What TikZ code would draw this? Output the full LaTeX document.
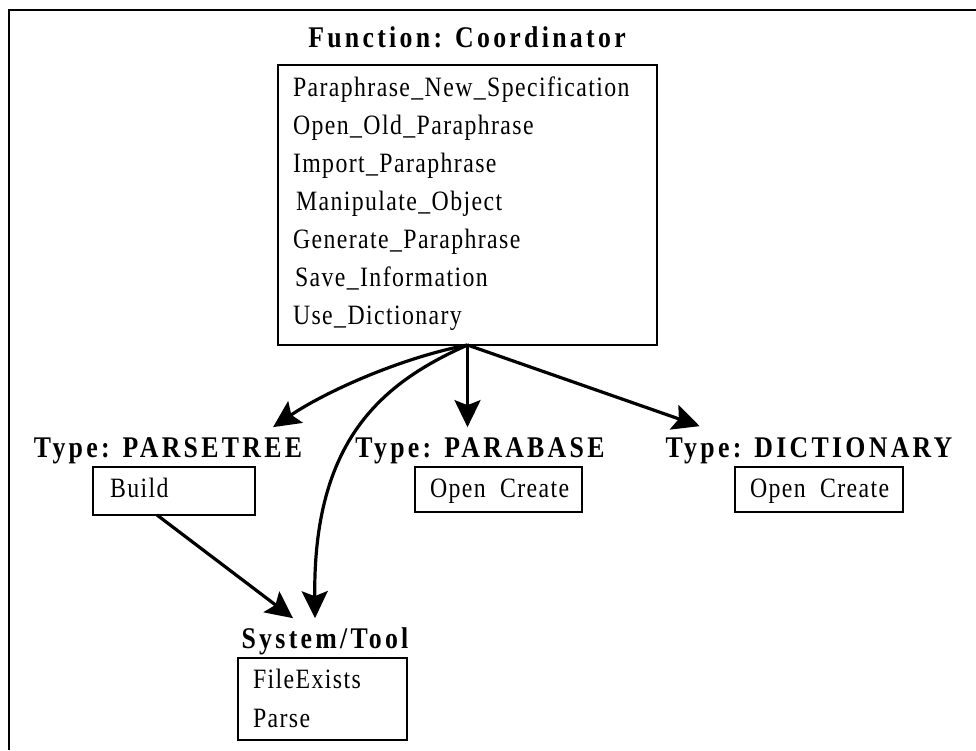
\documentclass[tikz,border=0pt]{standalone}
\usepackage{fontspec}
\setmainfont{Liberation Serif}[FakeStretch=0.85, LetterSpace=5]
\newfontfamily\headfont{Liberation Serif}[FakeStretch=0.86, LetterSpace=11]
\usetikzlibrary{arrows.meta}
\begin{document}
\begin{tikzpicture}[x=1pt, y=-1pt,
  every node/.style={inner sep=0pt, outer sep=0pt},
  head/.style={anchor=base, font=\headfont\bfseries\fontsize{30}{34}\selectfont},
  item/.style={anchor=base west, font=\fontsize{28}{32}\selectfont},
  box/.style={draw, line width=1.8pt, anchor=north west},
  arr/.style={line width=3.2pt, -{Stealth[length=27pt, width=26pt, inset=5pt]}},
  frame/.style={line width=2.6pt}]
\useasboundingbox (0,0) rectangle (976,750);

% page frame: only the top and left rules are visible
\coordinate (fTL) at (9,10);
\coordinate (fTR) at (976,10);
\coordinate (fBL) at (9,750);
\draw[frame] (fBL) -- (fTL) -- (fTR);

% coordinator
\node[head] (ttlF) at (467,47) {Function: Coordinator};
\node[box, minimum width=379pt, minimum height=280pt] (coord) at (278,65) {};
\node[item] (f1) at (293,96)  {Paraphrase\_New\_Specification};
\node[item] (f2) at (293,134) {Open\_Old\_Paraphrase};
\node[item] (f3) at (293,172) {Import\_Paraphrase};
\node[item] (f4) at (296,210) {Manipulate\_Object};
\node[item] (f5) at (293,248) {Generate\_Paraphrase};
\node[item] (f6) at (295,286) {Save\_Information};
\node[item] (f7) at (293,324) {Use\_Dictionary};

% types
\node[head] (ttlP) at (168,457) {Type: PARSETREE};
\node[box, minimum width=162pt, minimum height=48pt] (bP) at (93,467) {};
\node[item] (bP1) at (110,497) {Build};

\node[head] (ttlB) at (480,457) {Type: PARABASE};
\node[box, minimum width=167pt, minimum height=45pt] (bB) at (415,467) {};
\node[item] (bB1) at (430,497) {Open\hspace{7pt} Create};

\node[head] (ttlD) at (809,457) {Type: DICTIONARY};
\node[box, minimum width=168pt, minimum height=45pt] (bD) at (735,467) {};
\node[item] (bD1) at (750,497) {Open\hspace{7pt} Create};

% system
\node[head] (ttlS) at (325,648) {System/Tool};
\node[box, minimum width=169pt, minimum height=82pt] (bS) at (238,658) {};
\node[item] (bS1) at (253,688) {FileExists};
\node[item] (bS2) at (253,727) {Parse};

% connectors
\draw[arr] (coord.south) .. controls (400,358) and (325,392) .. ([xshift=-29pt, yshift=10pt]ttlP.north east);
\draw[arr] (coord.south) .. controls (382,383) and (313,440) .. ([xshift=-10pt, yshift=9pt]ttlS.north);
\draw[arr, shorten >=10pt] (coord.south) -- (coord.south |- ttlB.north);
\draw[arr] (coord.south) -- ([xshift=34pt, yshift=11pt]ttlD.north west);
\draw[arr] ([xshift=64pt]bP.south west) -- ([xshift=-32pt, yshift=9pt]ttlS.north);
\end{tikzpicture}
\end{document}
